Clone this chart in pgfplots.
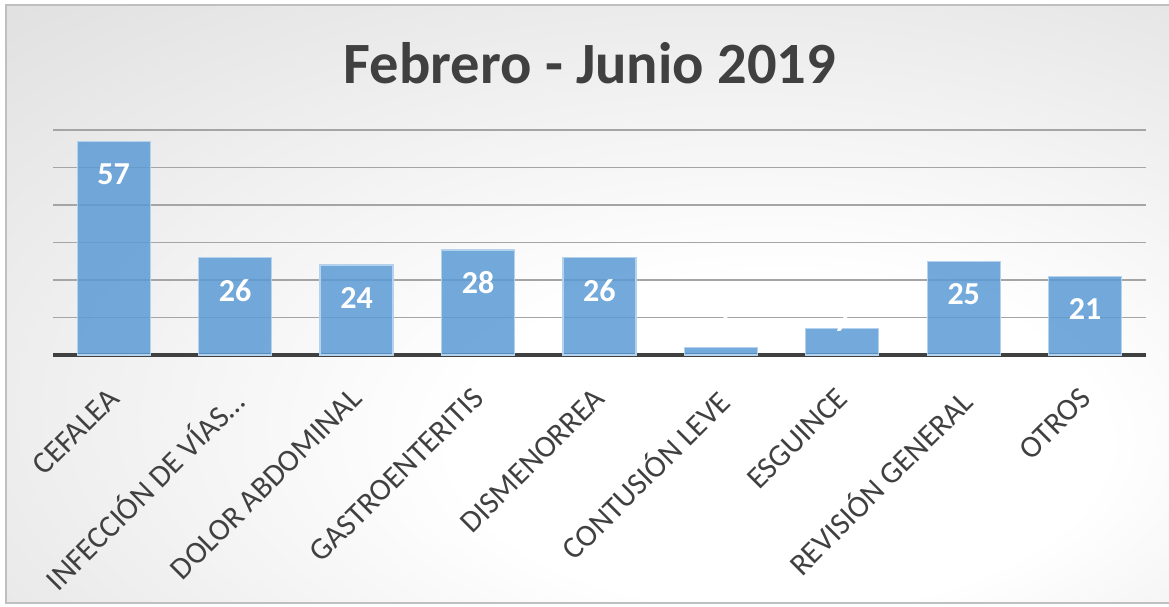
\documentclass[border=0pt]{standalone}
\usepackage{pgfplots}
\pgfplotsset{compat=1.18}
\usepackage{fontspec}
\setmainfont{Carlito}
\definecolor{txt}{RGB}{64,64,64}
\definecolor{barc}{RGB}{91,155,213}
\definecolor{bgout}{RGB}{186,186,186}
\definecolor{gridc}{RGB}{165,165,165}
\pgfdeclareradialshading{bgshade}{\pgfpoint{10bp}{-14bp}}{color(0bp)=(white); color(14bp)=(white); color(80bp)=(bgout)}
\begin{document}
\begin{tikzpicture}[x=1pt,y=1pt]
% picture frame: 1 px = 1 pt, axis box lower-left at px (53,355)
\useasboundingbox (-53,-252) rectangle (1116,355);
\fill[white] (-53,-252) rectangle (1116,355);
\shade[shading=bgshade] (-47,-248) rectangle (1116,350);
\draw[color=gray!50, line width=1.2pt] (1116,-248) -- (-47,-248) -- (-47,350) -- (1116,350);
\node[font=\fontsize{58.5}{60}\selectfont\bfseries, text=txt] at (537,292) {Febrero - Junio 2019};
\begin{axis}[
  at={(0,0)}, anchor=south west,
  scale only axis, width=1093pt, height=225pt,
  xmin=-0.5, xmax=8.5, ymin=0, ymax=60,
  /pgf/number format/assume math mode=true,
  axis line style={draw=none},
  tick style={draw=none},
  ytick={10,20,...,60}, yticklabels={},
  ymajorgrids, grid style={color=gridc, line width=1.5pt},
  extra y ticks={0}, extra y tick labels={},
  extra y tick style={grid style={color=txt, line width=4pt}},
  xtick=data,
  xticklabels={CEFALEA, INFECCIÓN DE VÍAS\dots, DOLOR ABDOMINAL, GASTROENTERITIS, DISMENORREA, CONTUSIÓN LEVE, ESGUINCE, REVISIÓN GENERAL, OTROS},
  xticklabel style={xshift=-7pt, yshift=-28pt, rotate=45, anchor=north east, inner sep=2pt, font=\fontsize{31}{33}\selectfont, text=txt},
  clip=false,
]
\addplot[ybar, bar width=73pt, fill=barc, fill opacity=0.85, draw=barc!45, line width=1.2pt,
  visualization depends on={y \as \rawy},
  nodes near coords,
  every node near coord/.append style={text=white, text opacity=1, font=\fontsize{32}{34}\selectfont\bfseries, anchor=center, yshift={ifthenelse(\rawy<10,(9-\rawy)*3.75,-33)}},
] coordinates {
  (0,57) (1,26) (2,24) (3,28) (4,26) (5,2) (6,7) (7,25) (8,21)
};
\end{axis}
\end{tikzpicture}
\end{document}
